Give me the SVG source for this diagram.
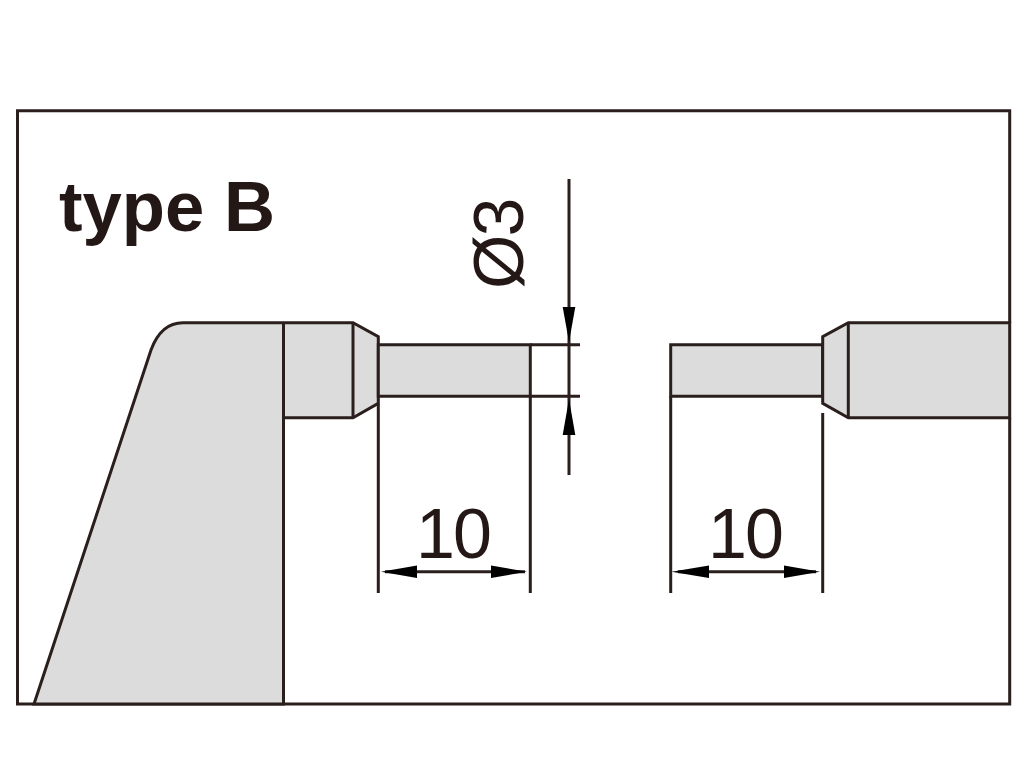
<svg xmlns="http://www.w3.org/2000/svg" width="1024" height="768" viewBox="0 0 1024 768">
<style>
.s{fill:#dcdcdc;stroke:#2a1f1c;stroke-width:3;stroke-linejoin:miter}
.l{fill:none;stroke:#2a1f1c;stroke-width:3}
.t{stroke:#2a1f1c;stroke-width:3;fill:none}
.a{fill:#000}
text{font-family:"Liberation Sans",Arial,sans-serif;fill:#231815}
.d{font-size:70px;letter-spacing:-2px}
</style>
<rect width="1024" height="768" fill="#fff"/>
<g id="frame"><path class="l" d="M1009.700 323V110.700H17.500V704H1009.700V418"/></g>
<g id="anvil">
<path class="s" d="M34 704L151 350Q161 322.700 183 322.700H353L378.300 336.700V403.300L353 417.700H283.500V704Z"/>
<path class="l" d="M283.500 322.700V704M353 322.700V417.700"/>
<path class="s" d="M378.300 344.700H530.300V396.300H378.300Z"/>
</g>
<g id="spindle">
<path class="s" d="M670.700 344.700H822.700V396.300H670.700Z"/>
<path class="s" d="M1009.700 322.700H848.300L822.700 336.700V403.300L848.300 417.700H1009.700Z"/>
<path class="l" d="M848.300 322.700V417.700"/>
</g>
<g id="connectors">
<path class="t" d="M378.300 404V593M530.300 396V593M670.700 396V593M822.700 413V593"/>
<path class="t" d="M530.300 344.700H580M530.300 396.300H580M569 179V475"/>
<path class="t" d="M385 571.700H525M678 571.700H816"/>
<polygon class="a" points="562.700,307 575.300,307 569,342"/>
<polygon class="a" points="562.700,435 575.300,435 569,399"/>
<polygon class="a" points="381,571.700 417,565.500 417,578"/>
<polygon class="a" points="527,571.700 491,565.500 491,578"/>
<polygon class="a" points="671.500,571.700 709,565.500 709,578"/>
<polygon class="a" points="820,571.700 784,565.500 784,578"/>
</g>
<g id="labels">
<text x="59" y="230.700" font-size="70.700" font-weight="700">type B</text>
<text class="d" x="416" y="558">10</text>
<text class="d" x="708" y="558">10</text>
<text class="d" transform="translate(523 289) rotate(-90)">Ø3</text>
</g>
</svg>
